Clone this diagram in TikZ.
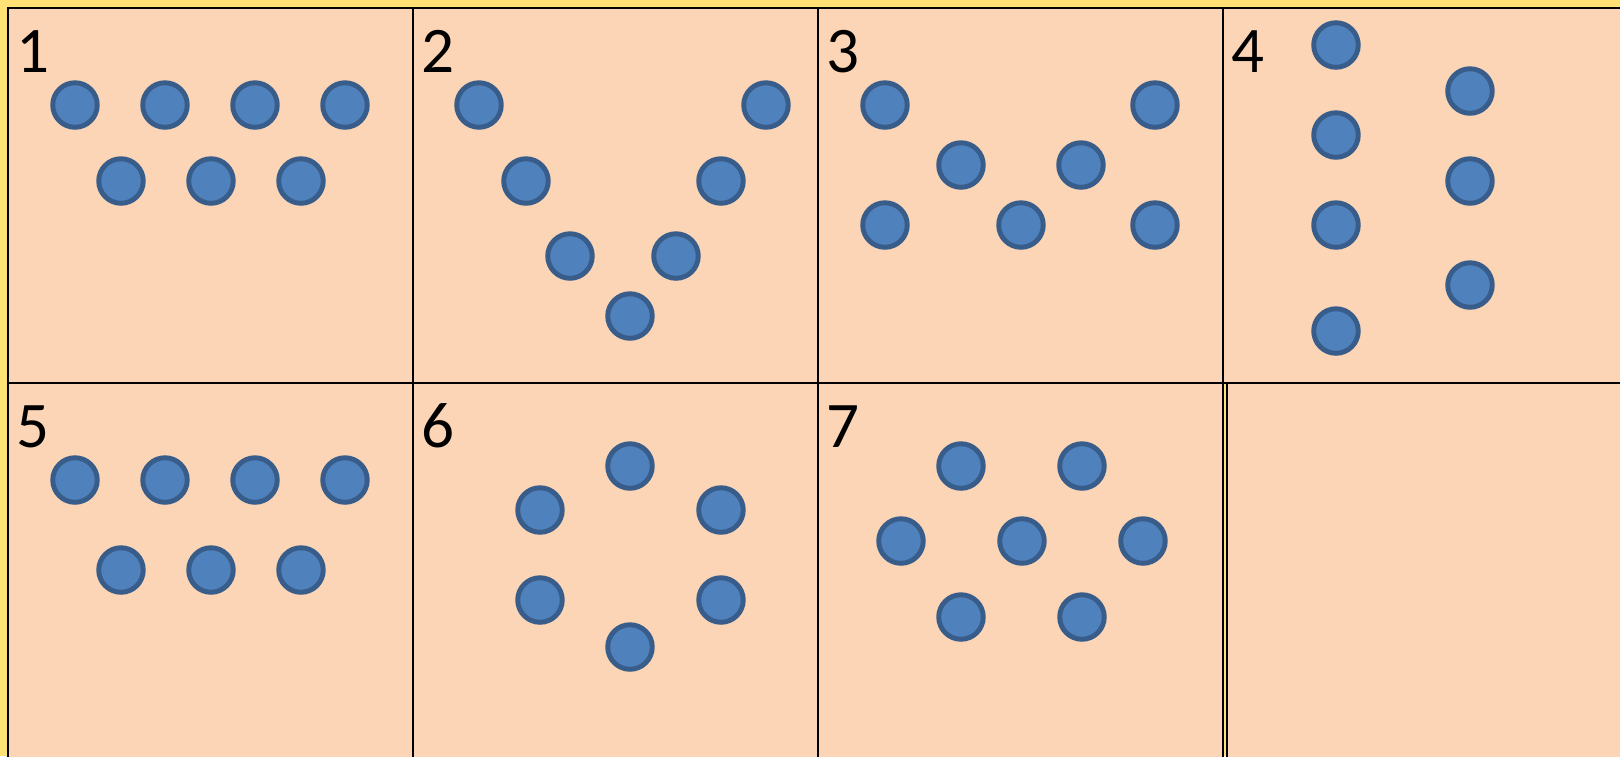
\documentclass[tikz,border=0pt]{standalone}
\usepackage{fontspec}
\setmainfont{Carlito}
\usetikzlibrary{positioning}
\definecolor{bgyellow}{HTML}{FFE175}
\definecolor{peach}{HTML}{FBD5B5}
\definecolor{dotfill}{HTML}{4F81BD}
\definecolor{dotline}{HTML}{385D8A}

\begin{document}
\begin{tikzpicture}[x=0.01cm,y=-0.01cm,
    panel/.style={fill=peach,draw=black,line width=0.6pt},
    dot/.style={circle,fill=dotfill,draw=dotline,line width=1.4pt,minimum size=0.445cm,inner sep=0pt},
    num/.style={anchor=base west,inner sep=0pt,font=\fontsize{18.5}{22}\selectfont}]
    \useasboundingbox[fill=bgyellow] (0,0) rectangle (1620,756);
    % panels
    \draw[panel] (8,8) rectangle (413,383);
    \draw[panel] (413,8) rectangle (818,383);
    \draw[panel] (818,8) rectangle (1223,383);
    \draw[panel] (1223,8) rectangle (1640,383);
    \draw[panel] (8,383) rectangle (413,780);
    \draw[panel] (413,383) rectangle (818,780);
    \draw[panel] (818,383) rectangle (1223,780);
    \draw[panel] (1227,383) rectangle (1640,780);
    % numbers
    \node[num] (n1) at (16,72) {1};
    \node[num] (n2) at (421,72) {2};
    \node[num] (n3) at (826,72) {3};
    \node[num] (n4) at (1231,72) {4};
    \node[num] (n5) at (16,447) {5};
    \node[num] (n6) at (421,447) {6};
    \node[num] (n7) at (826,447) {7};
    % panel 1 and 5
    \foreach \ya/\yb/\p in {105/181/a,480/570/e}{
        \foreach \x [count=\i] in {75,165,255,345}
            \node[dot] (\p\i) at (\x,\ya) {};
        \foreach \x [count=\i from 5] in {121,211,301}
            \node[dot] (\p\i) at (\x,\yb) {};
    }
    % panel 2
    \foreach \x/\y [count=\i] in {479/105,526/181,570/256,630/316,676/256,721/181,766/105}
        \node[dot] (b\i) at (\x,\y) {};
    % panel 3
    \foreach \x/\y [count=\i] in {885/105,961/165,1081/165,1155/105,885/225,1021/225,1155/225}
        \node[dot] (c\i) at (\x,\y) {};
    % panel 4
    \foreach \x/\y [count=\i] in {1336/45,1336/135,1336/225,1336/331,1470/91,1470/181,1470/285}
        \node[dot] (d\i) at (\x,\y) {};
    % panel 6
    \foreach \x/\y [count=\i] in {630/466,540/510,721/510,540/600,721/600,630/647}
        \node[dot] (f\i) at (\x,\y) {};
    % panel 7
    \foreach \x/\y [count=\i] in {961/466,1082/466,901/541,1022/541,1143/541,961/617,1082/617}
        \node[dot] (g\i) at (\x,\y) {};
\end{tikzpicture}
\end{document}
